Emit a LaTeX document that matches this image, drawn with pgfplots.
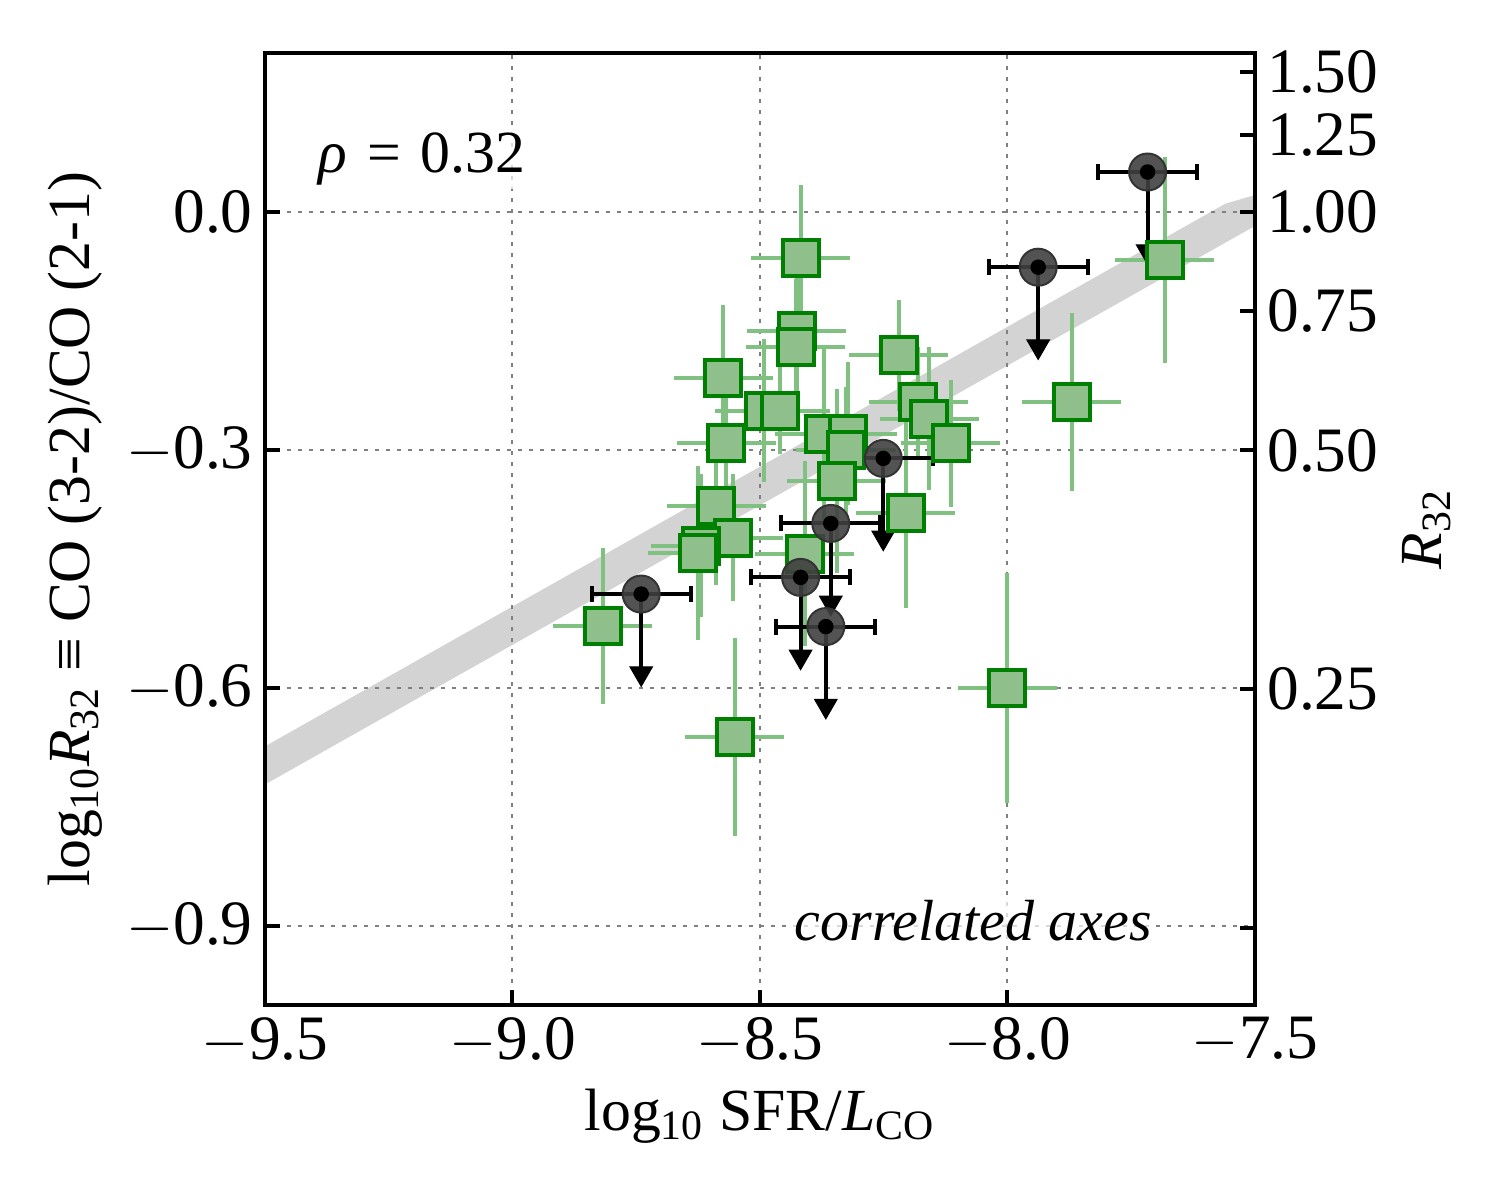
\documentclass[border=0pt]{standalone}
\usepackage{fontspec}
\setmainfont{Liberation Serif}
\usepackage{pgfplots}
\pgfplotsset{compat=1.18}

\definecolor{sqfill}{RGB}{143,191,139}
\definecolor{sqedge}{RGB}{0,128,0}
\definecolor{sqerr}{RGB}{128,192,128}
\definecolor{band}{RGB}{211,211,211}
\definecolor{circfill}{RGB}{64,64,64}

\newcommand\mn{$-$}

% green squares: x, y, x error, y error
\pgfplotstableread{
x       y       ex    ey
-8.418  -0.058  0.1   0.092
-8.426  -0.151  0.1   0.080
-8.428  -0.170  0.1   0.085
-8.574  -0.210  0.1   0.092
-8.491  -0.251  0.1   0.090
-8.459  -0.251  0.1   0.055
-8.568  -0.292  0.1   0.090
-8.588  -0.371  0.1   0.100
-8.554  -0.411  0.1   0.080
-8.620  -0.421  0.1   0.090
-8.626  -0.430  0.1   0.110
-8.818  -0.522  0.1   0.098
-8.551  -0.662  0.1   0.125
-8.000  -0.600  0.1   0.145
-8.220  -0.181  0.1   0.070
-8.180  -0.240  0.1   0.070
-8.158  -0.261  0.1   0.090
-8.115  -0.292  0.1   0.080
-8.206  -0.380  0.1   0.120
-7.870  -0.240  0.1   0.112
-7.682  -0.061  0.1   0.130
-8.370  -0.280  0.1   0.110
-8.323  -0.280  0.1   0.090
-8.327  -0.301  0.1   0.080
-8.345  -0.340  0.1   0.116
-8.410  -0.431  0.1   0.117
}\squares

% upper limits
\pgfplotstableread{
x       y
-7.717   0.050
-7.938  -0.070
-8.251  -0.311
-8.357  -0.393
-8.418  -0.461
-8.367  -0.523
-8.740  -0.482
}\limits

\begin{document}
\begin{tikzpicture}
\pgfplotsset{
  common/.style={
    scale only axis,
    width=99mm, height=95.2mm,
    xmin=-9.5, xmax=-7.5, ymin=-1.0, ymax=0.2,
    tick align=inside,
    major tick length=1.5mm,
    major tick style={black, line width=0.4mm},
    axis line style={line width=0.4mm},
    tick label style={font=\fontsize{18}{20}\selectfont},
    label style={font=\fontsize{17}{20}\selectfont},
  }
}
\begin{axis}[
  common,
  set layers,
  xtick={-9.5,-9,-8.5,-8,-7.5},
  xticklabels={\mn9.5,\mn9.0,\mn8.5,\mn8.0,\mn7.5},
  ytick={-0.9,-0.6,-0.3,0},
  yticklabels={\mn0.9,\mn0.6,\mn0.3,0.0},
  xtick pos=bottom, ytick pos=left,
  grid=major,
  major grid style={gray, line width=0.2mm, dash pattern=on 0.4mm off 0.7mm},
  xlabel={log\textsubscript{10} SFR/\textit{L}\textsubscript{CO}},
  ylabel={log\textsubscript{10}\textit{R}\textsubscript{32} ≡ CO (3-2)/CO (2-1)},
]
% trend band
\addplot[fill=band, draw=none, on layer=axis background]
  coordinates {(-9.5,-0.674) (-7.56,0.010) (-7.5,0.021) (-7.5,-0.018) (-9.5,-0.722)} -- cycle;

% detections
\addplot[only marks, mark=square*, mark size=1.8mm,
  mark options={fill=sqfill, draw=sqedge, line width=0.4mm},
  error bars/.cd, x dir=both, x explicit, y dir=both, y explicit,
  error mark=none, error bar style={sqerr, line width=0.4mm}]
  table[x=x, y=y, x error=ex, y error=ey] {\squares};

% upper limits: circles
\addplot[only marks, mark=*, mark size=1.85mm,
  mark options={fill=circfill, draw=black!80, line width=0.2mm, fill opacity=0.9}]
  table[x=x, y=y] {\limits};
% arrows
\addplot[only marks, mark=none,
  error bars/.cd, y dir=minus, y fixed=0.104, error mark=triangle*,
  error mark options={rotate=270, mark size=1.3mm, draw=black, fill=black, line width=0.1mm},
  error bar style={draw=black, line width=0.4mm}]
  table[x=x, y=y] {\limits};
% x error bars and centre dots
\addplot[only marks, mark=*, mark size=0.25mm, black,
  error bars/.cd, x dir=both, x fixed=0.1,
  error mark options={rotate=90, mark size=0.8mm, line width=0.4mm, black},
  error bar style={black, line width=0.4mm}]
  table[x=x, y=y] {\limits};

\node[anchor=base west, inner sep=1pt, fill=white, fill opacity=0.7, text opacity=1,
  font=\fontsize{17}{20}\selectfont] at (rel axis cs:0.05,0.874) {\textit{ρ}\hspace{0.08em} = \hspace{0.08em}0.32};
\node[anchor=base east, inner sep=1pt, fill=white, fill opacity=0.7, text opacity=1,
  font=\fontsize{16.5}{19}\selectfont\itshape] at (rel axis cs:0.9,0.068) {correlated axes};
\end{axis}

\begin{axis}[
  common,
  hide x axis,
  axis y line*=right,
  ytick={0.1761,0.0969,0,-0.1249,-0.3010,-0.6021,-0.9031},
  yticklabels={1.50,1.25,1.00,0.75,0.50,0.25,{}},
  ylabel={\textit{R}\textsubscript{32}},
]
\end{axis}
\path (-26.5mm,-19.5mm) rectangle (123.5mm,100.5mm);
\end{tikzpicture}
\end{document}
